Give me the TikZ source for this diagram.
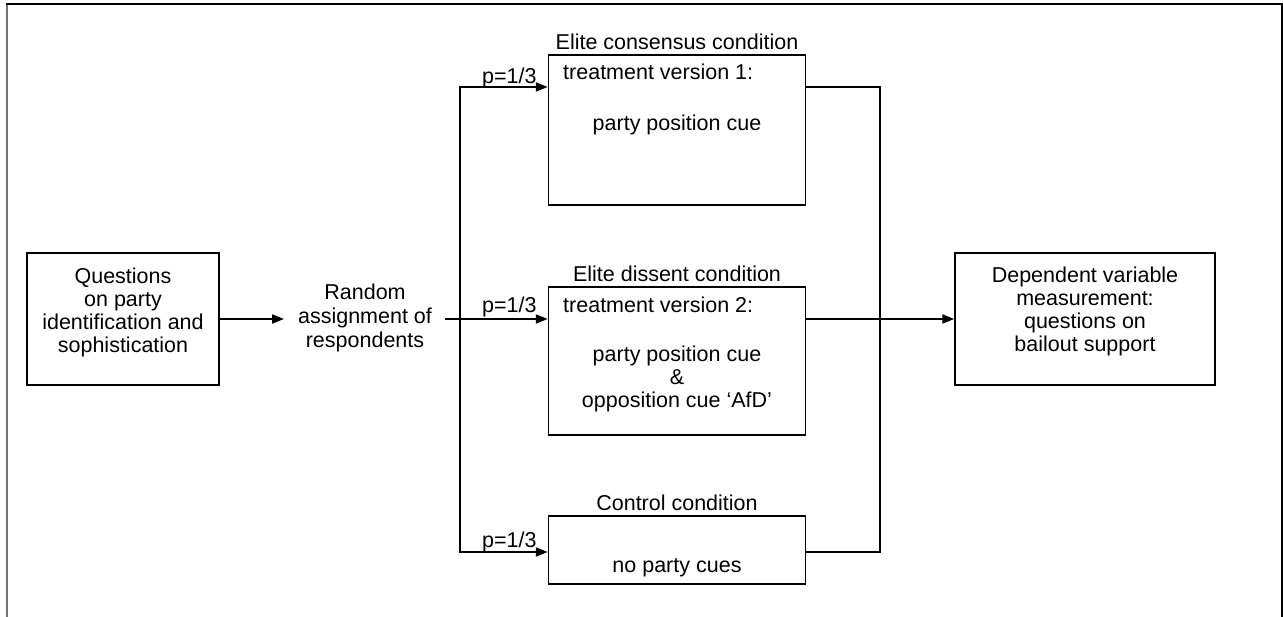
\documentclass[tikz,border=0pt]{standalone}
\usepackage{fontspec}
\setmainfont{Liberation Sans}
\usetikzlibrary{arrows.meta}
\begin{document}
\begin{tikzpicture}[x=1pt,y=-1pt,
  box/.style={draw,line width=1.5pt,inner sep=0pt,minimum width=#1},
  txt/.style={font=\fontsize{21.5}{23}\selectfont,inner sep=0pt,align=center},
  conn/.style={line width=2pt},
  arr/.style={conn,-{Triangle[length=12pt,width=9pt]}}]
\useasboundingbox (0,0) rectangle (1283,617);
% frame
\draw[line width=2pt,black!55] (7,617) -- (7,4);
\draw[line width=2pt] (6,4) -- (1282,4) -- (1282,617);
% boxes
\node[box=192pt,minimum height=132pt] (lbox) at (123,319) {};
\node[box=257pt,minimum height=150pt] (tbox) at (677,130) {};
\node[box=257pt,minimum height=148pt] (mbox) at (677,361) {};
\node[box=257pt,minimum height=68pt] (bbox) at (677,550) {};
\node[box=260pt,minimum height=132pt] (rbox) at (1085,319) {};
% texts
\node[txt,anchor=north] (ltxt) at (123,268) {Questions\\on party\\identification and\\sophistication};
\node[txt,anchor=north] (rtxt) at (1085,267) {Dependent variable\\measurement:\\questions on\\bailout support};
\node[txt,anchor=north,font=\fontsize{21.5}{24}\selectfont] (rand) at (365,284) {Random\\assignment of\\respondents};
\node[txt,anchor=base] (t1) at (677,50) {Elite consensus condition};
\node[txt,anchor=base] (t2) at (677,282) {Elite dissent condition};
\node[txt,anchor=base] (t3) at (677,511) {Control condition};
\node[txt,anchor=base west] (tv1) at (563,80) {treatment version 1:};
\node[txt,anchor=base] (c1) at (677,131) {party position cue};
\node[txt,anchor=base west] (tv2) at (563,313) {treatment version 2:};
\node[txt,anchor=north] (c2) at (677,346) {party position cue\\\&\\opposition cue ‘AfD’};
\node[txt,anchor=base] (c3) at (677,572) {no party cues};
\node[txt,anchor=base west] (p1) at (482,84) {p=1/3};
\node[txt,anchor=base west] (p2) at (482,313) {p=1/3};
\node[txt,anchor=base west] (p3) at (482,547) {p=1/3};
% connectors
\coordinate (a0) at (284,319);
\coordinate (r0) at (445,319);
\coordinate (tl) at (460,87);
\coordinate (bl) at (460,552);
\coordinate (tr) at (880,87);
\coordinate (br) at (880,552);
\draw[arr] (lbox.east) -- (a0);
\draw[arr] (r0) -- (mbox.west |- r0);
\draw[arr] (bl) -- (tl) -- (tbox.west |- tl);
\draw[arr] (tl) -- (bl) -- (bbox.west |- bl);
\draw[conn] (tbox.east |- tl) -- (tr) -- (br) -- (bbox.east |- br);
\draw[arr] (mbox.east |- r0) -- (rbox.west |- r0);
\end{tikzpicture}
\end{document}
